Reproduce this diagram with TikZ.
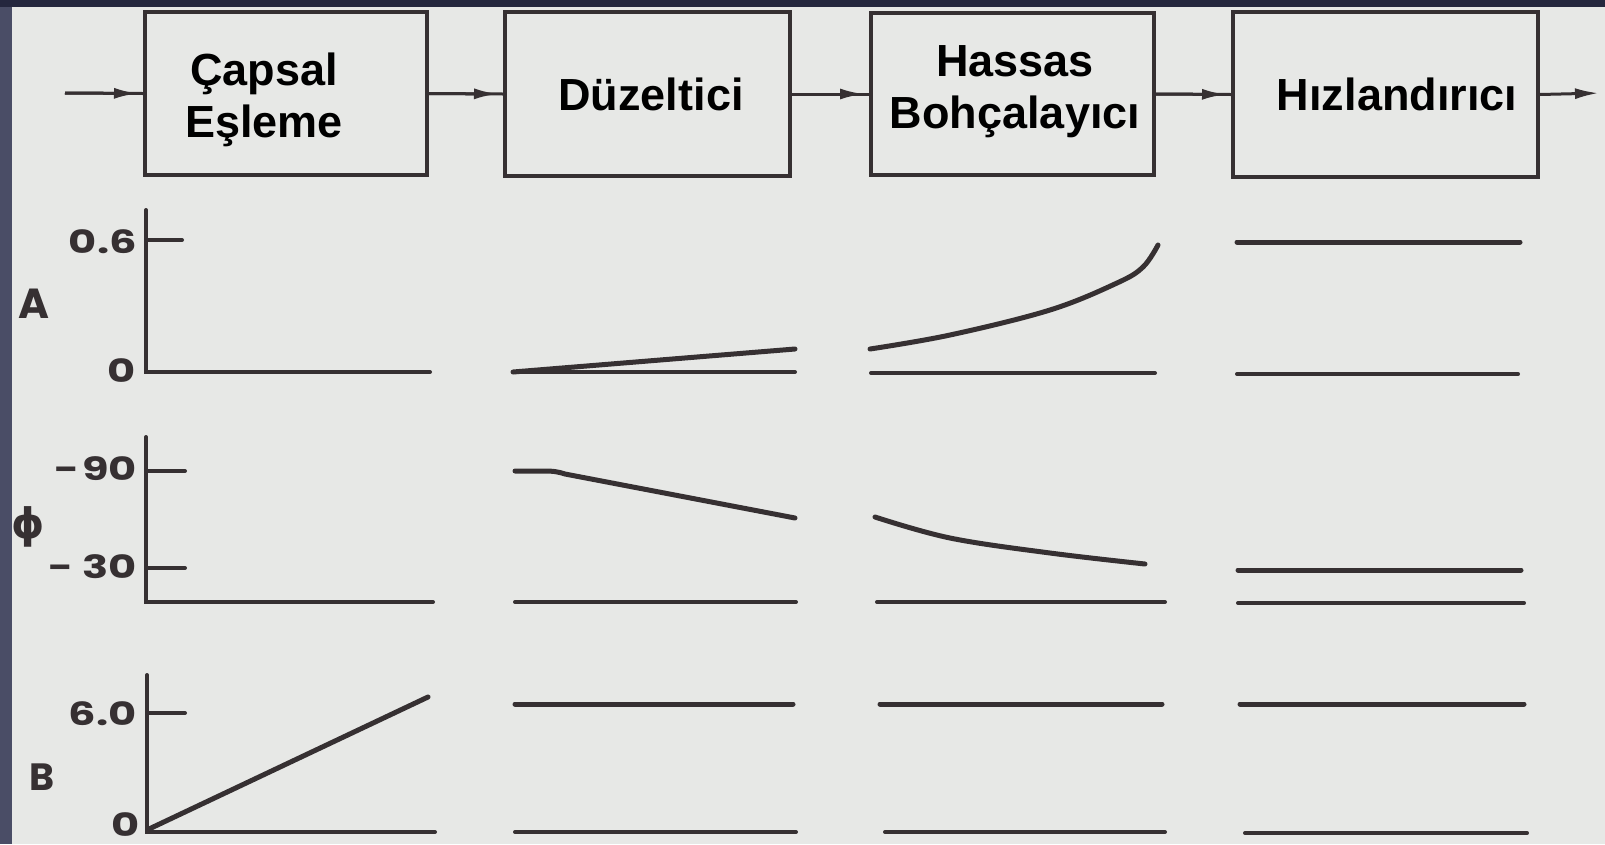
\documentclass[tikz,border=0pt]{standalone}
\usepackage{fontspec}
\setmainfont{Liberation Sans}
\newfontfamily\lblfont{Poppins}
\newfontfamily\symfont{DejaVu Sans}
\usetikzlibrary{arrows.meta}
\definecolor{paper}{HTML}{E7E8E6}
\definecolor{ink}{HTML}{363032}
\definecolor{frameL}{HTML}{4A4D66}
\definecolor{frameT}{HTML}{25273E}
\newcommand{\widelbl}[1]{\scalebox{1.35}[1]{#1}}
\tikzset{
  blockbox/.style={draw=ink, line width=4pt, minimum width=#1, inner sep=0pt},
  blocktext/.style={font=\fontsize{45}{52}\selectfont\bfseries, align=center, text=black, inner sep=0pt},
  axisline/.style={draw=ink, line width=4pt, line cap=round},
  curveline/.style={draw=ink, line width=5pt, line cap=round, line join=round},
  flowline/.style={draw=ink, line width=3pt},
  flowarrow/.style={draw=ink, line width=3pt, -{Latex[length=24pt,width=11pt]}, shorten >=5pt},
  ticklbl/.style={font=\lblfont\fontsize{32}{34}\selectfont\bfseries, text=ink, inner sep=0pt},
  varlbl/.style={font=\lblfont\fontsize{42}{44}\selectfont\bfseries, text=ink, inner sep=0pt}
}
\begin{document}
\begin{tikzpicture}[x=1pt,y=-1pt]
\useasboundingbox (0,0) rectangle (1605,844);
\fill[paper] (0,0) rectangle (1605,844);
\fill[frameL] (0,0) rectangle (12,844);
\fill[frameT] (0,0) rectangle (1605,7);

% blocks
\node[blockbox=282pt, minimum height=163pt] (b1) at (286,93.5) {};
\node[blockbox=285pt, minimum height=164pt] (b2) at (647.5,94) {};
\node[blockbox=283pt, minimum height=162pt] (b3) at (1012.5,94) {};
\node[blockbox=305pt, minimum height=165pt] (b4) at (1385.5,94.5) {};

\node[blocktext] (t1) at (264,100) {Çapsal\\Eşleme};
\node[blocktext] (t2) at (651,94) {Düzeltici};
\node[blocktext] (t3) at (1015,92) {Hassas\\Bohçalayıcı};
\node[blocktext] (t4) at (1397,94) {Hızlandırıcı};

% flow arrows
\coordinate (in) at (65,93);
\coordinate (out) at (1603,93);
\draw[flowline] (in) -- (b1.west);
\draw[flowarrow] (in) -- (b1.west);
\draw[flowline] (b1.east) -- (b2.west);
\draw[flowarrow] (b1.east) -- (b2.west);
\draw[flowline] (b2.east) -- (b3.west);
\draw[flowarrow] (b2.east) -- (b3.west);
\draw[flowline] (b3.east) -- (b4.west);
\draw[flowarrow] (b3.east) -- (b4.west);
\draw[flowarrow, shorten >=4pt] (b4.east) -- (out);

% ---- panel 1 axes
\draw[axisline] (146,210) -- (146,372) -- (430,372);
\draw[axisline] (146,240) -- (182,240);
\draw[axisline] (146,437) -- (146,602) -- (433,602);
\draw[axisline] (146,471) -- (185,471);
\draw[axisline] (146,568) -- (185,568);
\draw[axisline] (147,675) -- (147,832) -- (435,832);
\draw[axisline] (147,713) -- (185,713);
\draw[curveline] (149,829) -- (428,697);

% labels
\node[ticklbl, anchor=east] (l06) at (137,242) {\widelbl{0.6}};
\node[ticklbl] (l0a) at (122,371) {\widelbl{0}};
\node[varlbl] (lA) at (34,304) {A};
\node[ticklbl, anchor=east] (l90) at (137,469) {\widelbl{-\kern2pt 90}};
\node[ticklbl, anchor=east] (l30) at (137,567) {\widelbl{- 30}};
\node[varlbl, font=\symfont\fontsize{42}{44}\selectfont\bfseries] (lphi) at (28,527) {ϕ};
\node[ticklbl, anchor=east] (l60) at (137,714) {\widelbl{6.0}};
\node[varlbl, font=\lblfont\fontsize{38}{40}\selectfont\bfseries] (lB) at (42,777) {B};
\node[ticklbl] (l0b) at (126,825) {\widelbl{0}};

% ---- panel 2
\draw[axisline] (513,372) -- (795,372);
\draw[curveline] (513,372) -- (795,349);
\draw[curveline] (515,471) -- (545,471) to[out=0,in=162] (565,474) -- (795,518);
\draw[axisline] (515,602) -- (796,602);
\draw[curveline] (515,704) -- (793,704);
\draw[axisline] (515,832) -- (796,832);

% ---- panel 3
\draw[axisline] (871,373) -- (1155,373);
\draw[curveline] plot[smooth, tension=0.6] coordinates {(870,349) (950,335) (1050,310) (1117,283) (1143,267) (1158,245)};
\draw[curveline] plot[smooth, tension=0.6] coordinates {(875,517) (950,538) (1050,553) (1145,564)};
\draw[axisline] (877,602) -- (1165,602);
\draw[curveline] (880,704) -- (1162,704);
\draw[axisline] (885,832) -- (1165,832);

% ---- panel 4
\draw[curveline] (1237,242) -- (1520,242);
\draw[axisline] (1237,374) -- (1518,374);
\draw[curveline] (1238,570) -- (1521,570);
\draw[axisline] (1238,603) -- (1524,603);
\draw[curveline] (1240,704) -- (1524,704);
\draw[axisline] (1245,833) -- (1527,833);
\end{tikzpicture}
\end{document}
